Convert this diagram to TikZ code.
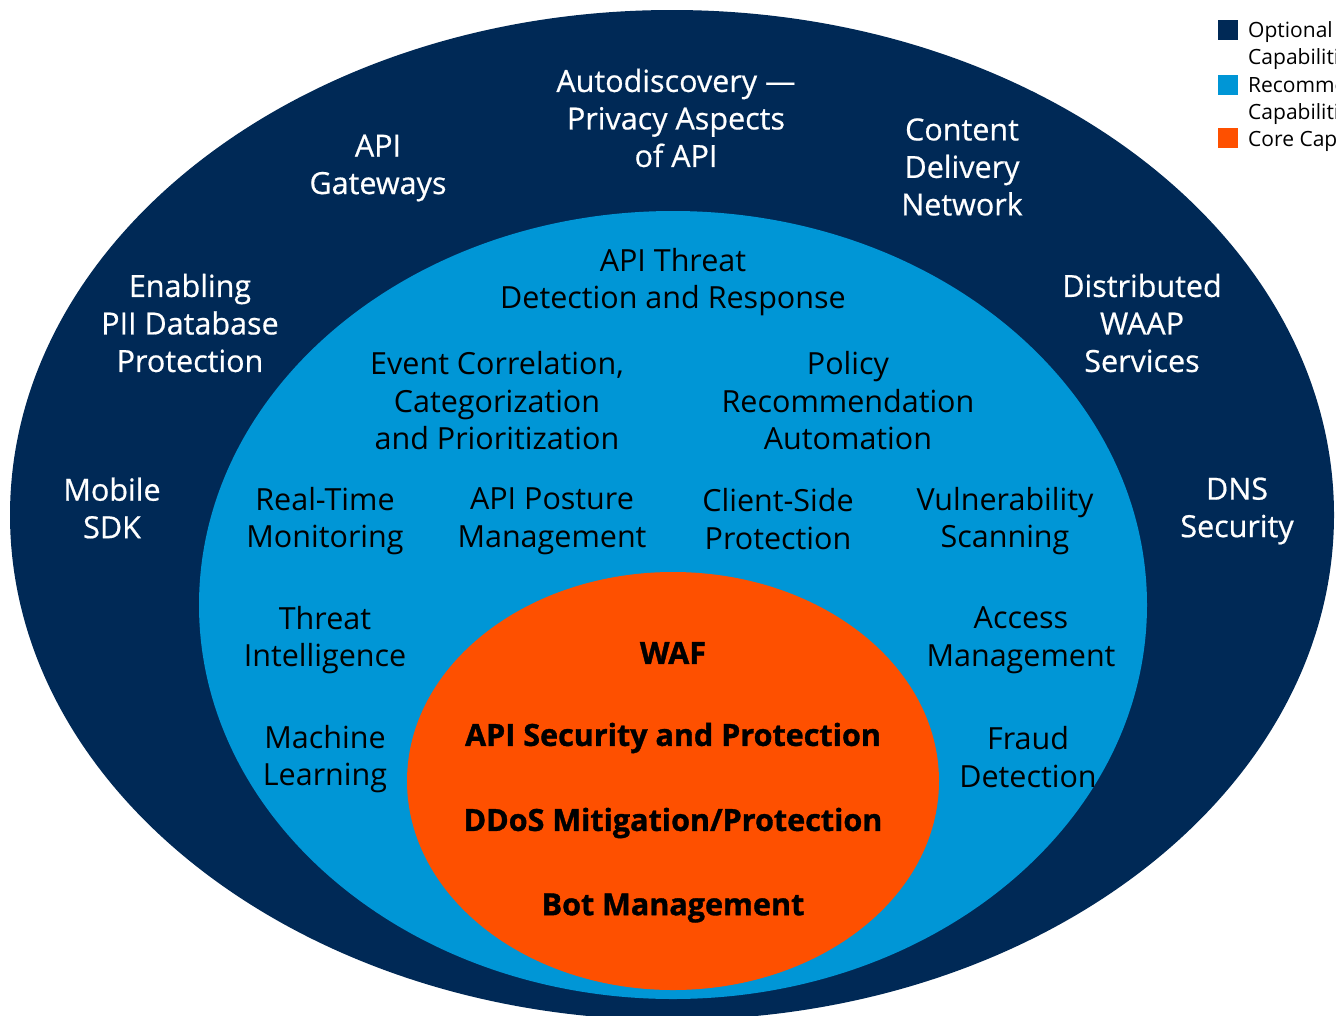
\documentclass[tikz,border=0pt]{standalone}
\usepackage{fontspec}
\setmainfont{Open Sans}
\newfontfamily\medfont[FakeBold=0.6]{Open Sans}
\newfontfamily\heavyfont[FakeBold=1.2]{Open Sans Bold}
\definecolor{navy}{RGB}{0,41,86}
\definecolor{sky}{RGB}{0,150,214}
\definecolor{core}{RGB}{254,80,0}
\tikzset{
  outerlbl/.style={text=white, align=center, font=\medfont\fontsize{30.5}{37.5}\selectfont, inner sep=0pt},
  midlbl/.style={text=black, align=center, font=\fontsize{30.5}{37.5}\selectfont, inner sep=0pt},
  corelbl/.style={text=black, align=center, font=\heavyfont\fontsize{30.5}{36}\selectfont, inner sep=0pt},
  legbox/.style={minimum width=20pt, minimum height=20pt, inner sep=0pt},
  legtxt/.style={anchor=west, align=left, font=\fontsize{21}{27}\selectfont, inner sep=0pt, text=black}
}
\begin{document}
\begin{tikzpicture}[x=1pt,y=-1pt]
\clip (0,0) rectangle (1336,1015);
\fill[white] (0,0) rectangle (1336,1015);
% ellipses
\fill[navy] (672,515) ellipse [x radius=662, y radius=505];
\fill[sky] (673,605) ellipse [x radius=474, y radius=394];
\fill[core] (673,781) ellipse [x radius=266, y radius=209];
% outer labels
\node[outerlbl] (autod) at (676,118) {Autodiscovery —\\Privacy Aspects\\of API};
\node[outerlbl] (apigw) at (378,168) {API\\Gateways};
\node[outerlbl] (cdn) at (962,167) {Content\\Delivery\\Network};
\node[outerlbl] (pii) at (190,323) {Enabling\\PII Database\\Protection};
\node[outerlbl] (dwaap) at (1142,323) {Distributed\\WAAP\\Services};
\node[outerlbl] (msdk) at (112,508) {Mobile\\SDK};
\node[outerlbl] (dns) at (1237,511) {DNS\\Security};
% middle labels
\node[midlbl] (atdr) at (673,282) {API Threat\\Detection and Response};
\node[midlbl] (ecor) at (497,401) {Event Correlation,\\Categorization\\and Prioritization};
\node[midlbl] (pol) at (848,401) {Policy\\Recommendation\\Automation};
\node[midlbl] (rtm) at (325,521) {Real-Time\\Monitoring};
\node[midlbl] (apm) at (552,521) {API Posture\\Management};
\node[midlbl] (csp) at (778,519) {Client-Side\\Protection};
\node[midlbl] (vuln) at (1005,521) {Vulnerability\\Scanning};
\node[midlbl] (ti) at (325,640) {Threat\\Intelligence};
\node[midlbl] (am) at (1021,640) {Access\\Management};
\node[midlbl] (ml) at (325,759) {Machine\\Learning};
\node[midlbl] (fd) at (1028,757) {Fraud\\Detection};
% core labels
\node[corelbl] (waf) at (673,653) {WAF};
\node[corelbl] (apisec) at (673,738) {API Security and Protection};
\node[corelbl] (ddos) at (673,823) {DDoS Mitigation/Protection};
\node[corelbl] (bot) at (673,908) {Bot Management};
% legend
\node[legbox, fill=navy] (lg1) at (1228,30) {};
\node[legbox, fill=sky] (lg2) at (1228,85) {};
\node[legbox, fill=core] (lg3) at (1228,138) {};
\node[legtxt] (lt1) at (1248,46) {Optional\\Capabilities};
\node[legtxt] (lt2) at (1248,101) {Recommended\\Capabilities};
\node[legtxt] (lt3) at (1248,141) {Core Capabilities};
\end{tikzpicture}
\end{document}
